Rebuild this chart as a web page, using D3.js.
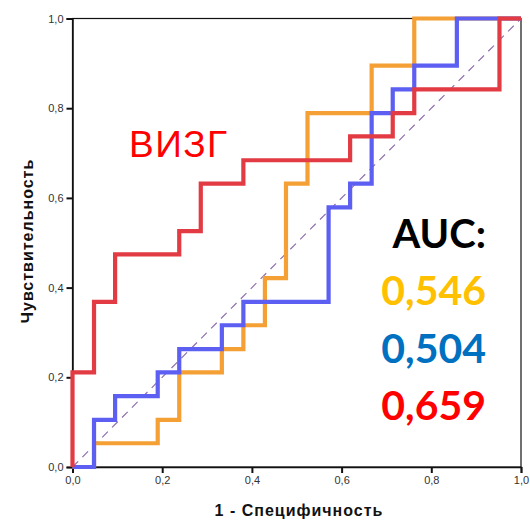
<!DOCTYPE html>
<html>
<head>
<meta charset="utf-8">
<script src="https://cdn.jsdelivr.net/npm/d3@7"></script>
<style>
  body { margin: 0; background: #fff; }
  svg { display: block; }
</style>
</head>
<body>
<svg id="chart" width="530" height="520"></svg>
<script>
// ROC points (1 - specificity, sensitivity), top corner of each step
const fprOrange = [0, 0.048, 0.190, 0.238, 0.333, 0.381, 0.429, 0.476, 0.524, 0.667, 0.762, 1]
const tprOrange = [0, 0.053, 0.105, 0.211, 0.263, 0.316, 0.421, 0.632, 0.789, 0.895, 1, 1]

const fprBlue = [0, 0.048, 0.095, 0.190, 0.238, 0.333, 0.381, 0.571, 0.619, 0.667, 0.714, 0.762, 0.857, 1]
const tprBlue = [0, 0.105, 0.158, 0.211, 0.263, 0.316, 0.368, 0.579, 0.632, 0.789, 0.842, 0.895, 1, 1]

const fprRed = [0, 0, 0.048, 0.095, 0.238, 0.286, 0.381, 0.619, 0.714, 0.762, 0.952, 1]
const tprRed = [0, 0.211, 0.368, 0.474, 0.526, 0.632, 0.684, 0.737, 0.789, 0.842, 1, 1]

const ticks = [0, 0.2, 0.4, 0.6, 0.8, 1.0]
const aucLabels = ['0,546', '0,504', '0,659']

let svg = d3.select('#chart')

let margin = { top: 18.5, right: 9, bottom: 53, left: 72.5 }
let W = 530, H = 520

let x = d3.scaleLinear().domain([0, 1]).range([margin.left, W - margin.right])
let y = d3.scaleLinear().domain([0, 1]).range([H - margin.bottom, margin.top])

let fmt = d3.formatLocale({ decimal: ',', thousands: ' ', grouping: [3], currency: ['', ''] }).format('.1f')

// frame
svg.append('rect')
    .attr('x', x(0)).attr('y', y(1))
    .attr('width', x(1) - x(0)).attr('height', y(0) - y(1))
    .style('fill', 'none')
    .style('stroke', '#111')
    .style('stroke-width', 1.2)

// axes
let xAxis = svg.append('g')
    .attr('transform', `translate(0,${y(0)})`)
    .call(d3.axisBottom(x).tickValues(ticks).tickFormat(fmt).tickSize(6).tickPadding(3))

let yAxis = svg.append('g')
    .attr('transform', `translate(${x(0)},0)`)
    .call(d3.axisLeft(y).tickValues(ticks).tickFormat(fmt).tickSize(6).tickPadding(3))

;[xAxis, yAxis].forEach(g => {
    g.select('.domain').style('stroke', '#111').style('stroke-width', 1.5)
    g.selectAll('.tick line').style('stroke', '#111').style('stroke-width', 2)
    g.selectAll('.tick text')
        .style('font-family', 'Liberation Sans, Arial, sans-serif')
        .style('font-size', '11px')
        .style('fill', '#333')
})

// reference diagonal
svg.append('line')
    .attr('x1', x(0)).attr('y1', y(0))
    .attr('x2', x(1)).attr('y2', y(1))
    .style('stroke', '#8d6fae')
    .style('stroke-width', 1.2)
    .style('stroke-dasharray', '8,6')

let line = d3.line()
    .x(d => x(d[0]))
    .y(d => y(d[1]))
    .curve(d3.curveStepAfter)

let curves = [
    { fpr: fprOrange, tpr: tprOrange, color: '#f4a034' },
    { fpr: fprBlue, tpr: tprBlue, color: '#5d5ff2' },
    { fpr: fprRed, tpr: tprRed, color: '#e23b43' }
]

curves.forEach(c => {
    svg.append('path')
        .datum(d3.zip(c.fpr, c.tpr))
        .attr('d', line)
        .style('fill', 'none')
        .style('stroke', c.color)
        .style('stroke-width', 4.2)
        .style('stroke-linejoin', 'miter')
})

// axis titles
svg.append('text')
    .attr('x', 299)
    .attr('y', 516)
    .attr('text-anchor', 'middle')
    .text('1 - Специфичность')
    .style('font-family', 'Liberation Sans, Arial, sans-serif')
    .style('font-weight', 'bold')
    .style('font-size', '16px')
    .style('letter-spacing', '1px')
    .style('fill', '#111')

svg.append('text')
    .attr('transform', 'translate(33,241) rotate(-90)')
    .attr('text-anchor', 'middle')
    .text('Чувствительность')
    .style('font-family', 'Liberation Sans, Arial, sans-serif')
    .style('font-weight', 'bold')
    .style('font-size', '16px')
    .style('letter-spacing', '1px')
    .style('fill', '#111')

// annotations
svg.append('text')
    .attr('x', 129)
    .attr('y', 157)
    .text('ВИЗГ')
    .style('font-family', 'Liberation Sans, Arial, sans-serif')
    .style('font-size', '37px')
    .style('letter-spacing', '1.5px')
    .style('fill', '#ff0000')

svg.append('text')
    .attr('x', 486)
    .attr('y', 248)
    .attr('text-anchor', 'end')
    .text('AUC:')
    .style('font-family', 'Lato, sans-serif')
    .style('font-weight', 'bold')
    .style('font-size', '40px')
    .style('fill', '#000')

let aucColors = ['#ffc000', '#0070c0', '#ff0000']
aucLabels.forEach((t, i) => {
    svg.append('text')
        .attr('x', 486)
        .attr('y', 305 + i * 57.5)
        .attr('text-anchor', 'end')
        .text(t)
        .style('font-family', 'Lato, sans-serif')
        .style('font-weight', 'bold')
        .style('font-size', '41px')
        .style('fill', aucColors[i])
})
</script>
</body>
</html>
